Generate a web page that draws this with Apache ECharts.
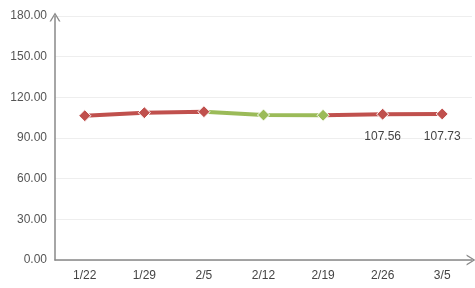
<!DOCTYPE html>
<html><head><meta charset="utf-8">
<script src="https://cdn.jsdelivr.net/npm/echarts@6/dist/echarts.min.js"></script>
<style>html,body{margin:0;padding:0;background:#fff}#c{width:475px;height:288px}</style>
</head><body><div id="c"></div>
<script>
const categories = ['1/22','1/29','2/5','2/12','2/19','2/26','3/5'];
const values = [106.45, 108.66, 109.4, 106.97, 106.75, 107.56, 107.73];
const labeledIdx = [5, 6];
const yTicks = [0, 30, 60, 90, 120, 150, 180];
const RED = '#c0504d', GREEN = '#9bbb59';
const CHEVRON = 'path://M0,80 L50,0 L100,80 L86,80 L50,20 L14,80 Z';

const chart = echarts.init(document.getElementById('c'));
chart.setOption({
  animation: false,
  grid: {left: 55, right: 3, top: 16, bottom: 28},
  xAxis: {
    type: 'category', data: categories, boundaryGap: true,
    axisLine: {lineStyle: {color: '#888', width: 1.5}, symbol: ['none', CHEVRON], symbolSize: [11, 9], symbolOffset: [0, -1]},
    axisTick: {show: false},
    axisLabel: {color: '#444', fontSize: 12, margin: 10, fontFamily: 'Arial, Liberation Sans'}
  },
  yAxis: {
    type: 'value', min: yTicks[0], max: yTicks[yTicks.length-1], interval: 30,
    axisLine: {show: true, lineStyle: {color: '#888', width: 1.5}, symbol: ['none', CHEVRON], symbolSize: [11, 9], symbolOffset: [0, -1]},
    axisTick: {show: false},
    splitLine: {lineStyle: {color: '#eeeeee'}},
    axisLabel: {color: '#555', fontSize: 12, margin: 8, fontFamily: 'Arial, Liberation Sans', formatter: v => v.toFixed(2)}
  },
  visualMap: {
    show: false, type: 'piecewise', dimension: 0, seriesIndex: 0,
    pieces: [{gt: 2, lte: 4, color: GREEN}],
    outOfRange: {color: RED}
  },
  series: [{
    type: 'line', data: values.map((v, i) => ({
      value: v,
      label: {show: labeledIdx.includes(i), position: 'bottom', distance: 10, color: '#444', fontSize: 12,
        fontFamily: 'Arial, Liberation Sans', formatter: p => p.value.toFixed(2)}
    })),
    symbol: 'diamond', symbolSize: 12, showAllSymbol: true,
    lineStyle: {width: 4},
    itemStyle: {borderColor: '#fff', borderWidth: 1}
  }]
});
</script></body></html>
